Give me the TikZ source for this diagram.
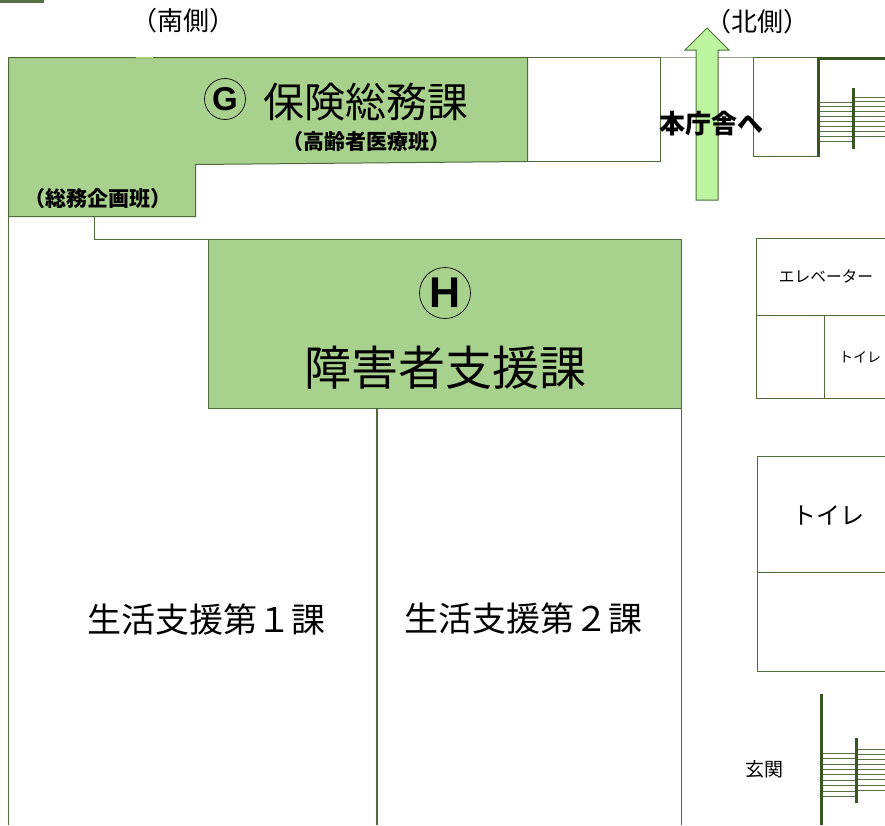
\documentclass[tikz,border=0pt]{standalone}
\usepackage{fontspec}
\setmainfont{Noto Sans CJK JP}
\newfontfamily\latinfont{Liberation Sans}
\definecolor{roomgreen}{HTML}{A9D18E}
\definecolor{wallgreen}{HTML}{4F6B3A}
\definecolor{darkwall}{HTML}{385723}
\definecolor{arrowgreen}{HTML}{BDF4A0}
\tikzset{
	wall/.style={draw=wallgreen, line width=1pt},
	room/.style={wall, fill=roomgreen},
	thickwall/.style={draw=darkwall, line width=3pt},
	tread/.style={draw=darkwall!85, line width=0.9pt},
	label/.style={inner sep=0pt, text=black},
}
\begin{document}
\begin{tikzpicture}[x=1pt, y=-1pt]
	\useasboundingbox (0,0) rectangle (885,825);
	\fill[fill=darkwall!85] (0,0) rectangle (44,3);
	% walls
	\draw[wall] (8.5,217) -- (8.5,825);
	\draw[wall] (94.5,217) -- (94.5,239.5) -- (208.5,239.5);
	\draw[wall] (527.5,57.5) rectangle (660,161.5);
	\draw[wall, draw opacity=.6] (660,57.5) -- (754,57.5);
	\draw[wall] (753.5,57.5) rectangle (818,156.5);
	\draw[wall] (681.5,409) -- (681.5,825);
	\draw[wall, line width=1.6pt] (377,409) -- (377,825);
	% green rooms
	\draw[room] (8.5,57.5) -- (527.5,57.5) -- (527.5,161.5) -- (195.5,164.5) -- (195.5,216.5) -- (8.5,216.5) -- cycle;
	\draw[draw=roomgreen, line width=1pt] (136,57.5) -- (153,57.5);
	\draw[room] (208.5,239.5) rectangle (681.5,408.5);
	% right side rooms
	\draw[wall] (885,238.5) -- (756.5,238.5) -- (756.5,398.5) -- (885,398.5);
	\draw[wall] (756.5,315) -- (885,315);
	\draw[wall] (824,315) -- (824,398.5);
	\draw[wall] (885,456.5) -- (757.5,456.5) -- (757.5,671.5) -- (885,671.5);
	\draw[wall] (757.5,572.5) -- (885,572.5);
	% upper stairs
	\foreach \i in {0,...,8} {
		\draw[tread] (820,102+4.9*\i) -- (853,102+4.9*\i);
		\draw[tread] (855,97+4.9*\i) -- (885,97+4.9*\i);
	}
	\draw[thickwall] (818,58) -- (818,157);
	\draw[thickwall] (817,58) -- (885,58);
	\draw[thickwall] (853.5,88) -- (853.5,149);
	% lower stairs
	\foreach \i in {0,...,8} {
		\draw[tread] (822,753.5+5.35*\i) -- (856,753.5+5.35*\i);
		\draw[tread] (858,749+5.15*\i) -- (885,749+5.15*\i);
	}
	\draw[thickwall] (821.5,694) -- (821.5,825);
	\draw[thickwall] (856.5,738) -- (856.5,803);
	% arrow
	\draw[wall, fill=arrowgreen] (696,200) -- (696,50) -- (685,50) -- (707,28) -- (729,50) -- (718,50) -- (718,200) -- cycle;
	% labels
	\node[label, font=\fontsize{26}{26}\selectfont] (south) at (183,21) {（南側）};
	\node[label, font=\fontsize{26}{26}\selectfont] (north) at (757,22) {（北側）};
	\node[circle, draw, line width=0.7pt, inner sep=0pt, minimum size=41pt, font=\latinfont\fontsize{33}{33}\selectfont\bfseries] (markG) at (225,99) {G};
	\node[label, font=\fontsize{41}{41}\selectfont, anchor=west] (hoken) at (263,102) {保険総務課};
	\node[label, font=\fontsize{21}{21}\selectfont\bfseries] (koreisha) at (366,142) {（高齢者医療班）};
	\node[label, font=\fontsize{21}{21}\selectfont\bfseries] (somu) at (98,199) {（総務企画班）};
	\node[label, font=\fontsize{26}{26}\selectfont\bfseries] (honcho) at (711,124) {本庁舎へ};
	\node[circle, draw, line width=0.7pt, inner sep=0pt, minimum size=51pt, font=\latinfont\fontsize{43}{43}\selectfont\bfseries] (markH) at (445,293) {H};
	\node[label, font=\fontsize{47}{47}\selectfont] (shogai) at (445,368) {障害者支援課};
	\node[label, font=\fontsize{34}{34}\selectfont] (seikatsuA) at (206,620) {生活支援第１課};
	\node[label, font=\fontsize{34}{34}\selectfont] (seikatsuB) at (523,619) {生活支援第２課};
	\node[label, font=\fontsize{15.7}{15.7}\selectfont] (elevator) at (826,276) {エレベーター};
	\node[label, font=\fontsize{14}{14}\selectfont] (toiletA) at (860,357) {トイレ};
	\node[label, font=\fontsize{24}{24}\selectfont] (toiletB) at (828,515) {トイレ};
	\node[label, font=\fontsize{19}{19}\selectfont] (genkan) at (764,769) {玄関};
\end{tikzpicture}
\end{document}
